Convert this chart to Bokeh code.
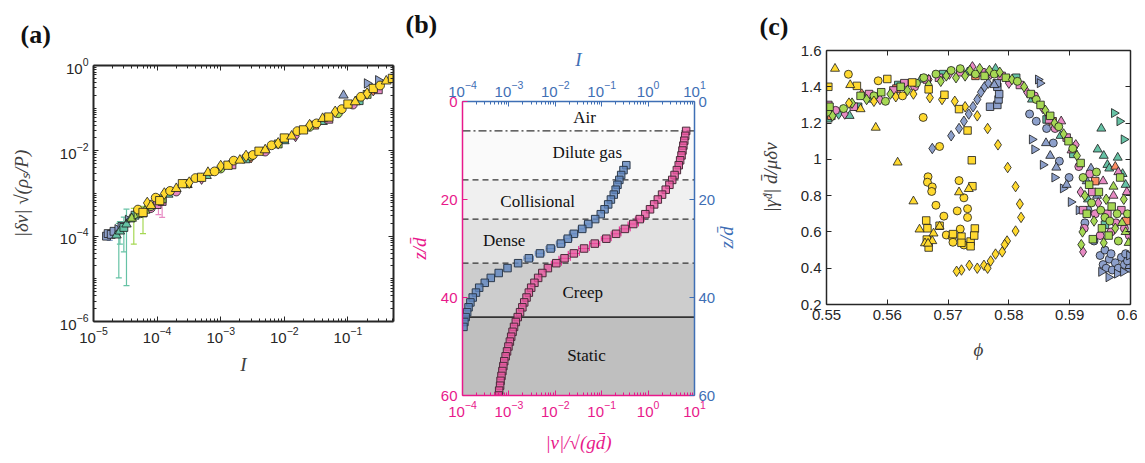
import math
from bokeh.plotting import figure
from bokeh.layouts import row, column
from bokeh.models import (Range1d, LogScale, LogAxis, LinearAxis, FixedTicker,
                          CustomJSTickFormatter, BoxAnnotation, Span, Label,
                          Whisker, TeeHead, ColumnDataSource)
from bokeh.embed import file_html
from bokeh.resources import INLINE

# ---------------- colours ----------------
TEAL, ORANGE, BLUE, PINK, GREEN, YELLOW = "#66c2a5", "#fc8d62", "#8da0cb", "#e78ac3", "#a6d854", "#ffd92f"
B_PINK, B_BLUE = "#e8198b", "#3f6fb5"

# ---------------- panel (a) data ----------------
a_yel_I = [5.0e-5, 6.0e-5, 7.0e-5, 8.0e-5, 9.5e-5, 1.1e-4, 1.3e-4, 1.6e-4, 2.0e-4, 2.5e-4, 3.2e-4,
           4.0e-4, 5.0e-4, 6.3e-4, 8.0e-4, 1.0e-3, 1.3e-3, 1.6e-3, 2.0e-3, 2.5e-3, 3.2e-3, 4.0e-3,
           5.0e-3, 6.3e-3, 8.0e-3, 1.0e-2, 1.3e-2, 1.6e-2, 2.0e-2, 2.5e-2, 3.2e-2, 4.0e-2, 5.0e-2,
           6.3e-2, 8.0e-2, 0.10, 0.13, 0.16, 0.20, 0.25, 0.32, 0.40, 0.50]
a_yel_y = [4.2e-4, 3.6e-4, 6.0e-4, 5.2e-4, 8.0e-4, 6.8e-4, 1.0e-3, 1.15e-3, 1.3e-3, 1.7e-3, 1.8e-3,
           2.3e-3, 2.4e-3, 3.1e-3, 3.3e-3, 4.4e-3, 4.6e-3, 5.9e-3, 6.0e-3, 7.6e-3, 8.0e-3, 9.8e-3,
           1.05e-2, 1.35e-2, 1.5e-2, 2.0e-2, 2.2e-2, 2.9e-2, 3.1e-2, 4.0e-2, 4.4e-2, 5.7e-2, 6.2e-2,
           8.2e-2, 9.5e-2, 0.125, 0.14, 0.185, 0.22, 0.29, 0.34, 0.43, 0.50]
a_yel_mk = list("osd^osdo^s" "dos^odso^d" "os^ods^osd" "o^sdos^ods" "o^s")

a_teal_I = [2.3e-5, 2.6e-5, 3.0e-5, 3.3e-5, 3.8e-5, 4.5e-5, 1.5e-4, 6.0e-4, 2.5e-3, 1.0e-2, 4.0e-2, 0.15]
a_teal_y = [1.05e-4, 1.3e-4, 1.6e-4, 1.9e-4, 2.5e-4, 3.1e-4, 9.5e-4, 2.6e-3, 6.5e-3, 1.7e-2, 4.8e-2, 0.15]
a_teal_mk = list("^^s^^s^^s^^s")

a_green_I = [4.0e-5, 4.8e-5, 5.5e-5, 6.5e-5, 8.0e-5, 1.2e-4, 3.0e-4, 1.0e-3, 3.0e-3, 8.0e-3, 2.5e-2, 7.0e-2, 0.2]
a_green_y = [2.6e-4, 3.2e-4, 3.4e-4, 4.0e-4, 5.0e-4, 7.5e-4, 1.6e-3, 3.8e-3, 7.5e-3, 1.45e-2, 3.6e-2, 7.5e-2, 0.21]
a_green_mk = list("^>o^os^oosoos")

a_pink_I = [6.0e-5, 8.0e-5, 1.0e-4, 1.2e-4, 2.0e-4, 5.0e-4, 1.5e-3, 5.0e-3, 1.5e-2, 5.0e-2, 0.12, 0.3]
a_pink_y = [3.5e-4, 4.5e-4, 5.5e-4, 6.5e-4, 1.1e-3, 2.2e-3, 4.7e-3, 9.5e-3, 2.2e-2, 5.5e-2, 0.12, 0.27]
a_pink_mk = list("sossodsodsos")

a_blue_I = [1.6e-5, 1.7e-5, 1.9e-5, 2.1e-5, 2.4e-5, 2.8e-5, 3.5e-5, 0.085, 0.2, 0.3]
a_blue_y = [1.0e-4, 1.15e-4, 1.1e-4, 1.3e-4, 1.45e-4, 1.7e-4, 2.4e-4, 0.2, 0.38, 0.45]
a_blue_mk = list("ssss>s>^>>")

a_orange_I = [3.0e-4, 3.0e-3, 3.0e-2, 0.25]
a_orange_y = [1.7e-3, 7.0e-3, 4.0e-2, 0.26]
a_orange_mk = list("sdsd")

a_err_I = [1.8e-5, 2.5e-5, 3.0e-5, 3.3e-5, 2.6e-5, 4.3e-5, 6.0e-5, 1.2e-4, 1.05e-4]
a_err_lo = [8.0e-5, 1.05e-5, 4.3e-5, 6.9e-6, 6.5e-5, 6.5e-5, 1.15e-4, 2.75e-4, 3.2e-4]
a_err_hi = [1.2e-4, 2.0e-4, 2.8e-4, 4.3e-4, 2.2e-4, 4.5e-4, 5.0e-4, 7.0e-4, 6.0e-4]
a_err_col = [BLUE, TEAL, TEAL, TEAL, TEAL, GREEN, GREEN, PINK, PINK]

# ---------------- panel (b) data ----------------
b_region_edges = [0, 6, 16, 24, 33, 44, 60]
b_region_fill = ["#ffffff", "#fafafa", "#f0f0f0", "#e2e2e2", "#cdcdcd", "#bfbfbf"]
b_region_names = ["Air", "Dilute gas", "Collisional", "Dense", "Creep", "Static"]
b_label_x = [0.0427, 0.049, 0.00417, 0.00079, 0.039, 0.047]
b_label_z = [3.2, 10.4, 20.5, 28.3, 38.9, 51.8]
b_line_z = [6, 16, 24, 33, 44]
b_line_dash = ["8 3 2 3", "6 4", "6 4", "6 4", "solid"]

b_v_z = list(range(6, 61))
b_v = [6.61, 6.31, 6.03, 5.75, 5.50, 5.25, 4.90, 4.57, 4.17, 3.72, 3.31, 2.88, 2.40, 2.00, 1.62,
       1.35, 1.10, 0.871, 0.661, 0.479, 0.316, 0.204, 0.126, 0.0708, 0.0417, 0.0251, 0.0158,
       0.0105, 0.00692, 0.00525, 0.00427, 0.00355, 0.00302, 0.00269, 0.00240, 0.00214, 0.00195,
       0.00174, 0.00155, 0.00141, 0.00129, 0.00120, 0.00112, 0.00105, 0.000977, 0.000912,
       0.000851, 0.000794, 0.000759, 0.000724, 0.000692, 0.000661, 0.000646, 0.000617, 0.000603]
b_I_z = list(range(13, 47))
b_I = [0.339, 0.295, 0.263, 0.240, 0.219, 0.200, 0.182, 0.158, 0.138, 0.115, 0.0955, 0.0724,
       0.0513, 0.0380, 0.0251, 0.0186, 0.0132, 0.00794, 0.00468, 0.00269, 0.00158, 0.000933,
       0.000603, 0.000407, 0.000302, 0.000229, 0.000195, 0.000166, 0.000148, 0.000135,
       0.000126, 0.000117, 0.000110, 0.000105]
b_verr_z = [24, 25, 26, 27, 28, 29, 30, 31, 32, 33]
b_verr_lo = [0.53, 0.37, 0.24, 0.16, 0.098, 0.055, 0.032, 0.019, 0.012, 0.0082]
b_verr_hi = [0.82, 0.62, 0.41, 0.26, 0.16, 0.091, 0.054, 0.033, 0.021, 0.0135]
b_Ierr_z = [25, 26, 27, 28, 29, 30, 31, 32]
b_Ierr_lo = [0.042, 0.031, 0.020, 0.015, 0.0105, 0.0063, 0.0037, 0.0021]
b_Ierr_hi = [0.062, 0.046, 0.031, 0.023, 0.0165, 0.0100, 0.0059, 0.0034]

# ---------------- panel (c) data ----------------
c_blue_phi = [0.5674, 0.5705, 0.5718, 0.5726, 0.5734, 0.5741, 0.5748, 0.5754, 0.5760, 0.5766,
              0.5769, 0.5781, 0.5783, 0.5784, 0.5781, 0.5780,
              0.5776, 0.5848, 0.5851,
              0.5834, 0.5845, 0.5862, 0.5873, 0.5883, 0.5899,
              0.5838, 0.5842, 0.5856, 0.5875, 0.5889, 0.5902, 0.5915,
              0.5861, 0.5868, 0.5878, 0.5895,
              0.5950, 0.5955, 0.5960, 0.5965, 0.5970, 0.5975, 0.5980, 0.5985, 0.5990, 0.5995, 0.5998,
              0.5958, 0.5968, 0.5992,
              0.5964, 0.5952, 0.5978, 0.5988, 0.5998,
              0.5935, 0.5928, 0.5945, 0.5925, 0.5930, 0.5940]
c_blue_val = [1.06, 1.13, 1.17, 1.21, 1.25, 1.29, 1.33, 1.37, 1.40, 1.42,
              1.29, 1.30, 1.33, 1.36, 1.40, 1.42,
              1.41, 1.44, 1.42,
              1.25, 1.21, 1.17, 1.09, 0.99, 0.90,
              1.11, 1.055, 0.97, 0.90, 0.84, 0.765, 0.72,
              1.09, 1.02, 0.955, 0.86,
              0.47, 0.42, 0.40, 0.45, 0.39, 0.43, 0.40, 0.46, 0.42, 0.44, 0.40,
              0.50, 0.48, 0.48,
              0.35, 0.38, 0.37, 0.38, 0.47,
              0.95, 0.88, 0.80, 0.65, 0.72, 0.55]
c_blue_mk = list("dddddddddd" "ssssss" "^>>" "oooooo" ">>>>>>>" "^^^^" "oooooooooooooo" ">>>>>" "^^^ooo")

c_teal_phi = [0.5502, 0.5520, 0.5538, 0.5552, 0.5575, 0.5618, 0.5655, 0.5692, 0.5732, 0.5778,
              0.5812, 0.5838, 0.5862, 0.5885, 0.5906,
              0.5973, 0.5982, 0.5952, 0.5989, 0.5946, 0.5956, 0.5979, 0.5962, 0.5987, 0.5965,
              0.5930, 0.5958, 0.5992]
c_teal_val = [1.22, 1.25, 1.24, 1.29, 1.33, 1.41, 1.44, 1.47, 1.48, 1.50,
              1.45, 1.33, 1.22, 1.13, 1.03,
              1.255, 1.21, 1.17, 1.11, 1.055, 1.02, 1.01, 0.97, 0.92, 0.95,
              0.78, 0.64, 0.86]
c_teal_mk = list("^d^s^s^s^^s^s^s" ">>^>^^^^^^" "^s^")

c_orange_phi = [0.5508, 0.5558, 0.5615, 0.5668, 0.5745, 0.5798, 0.5872, 0.5908, 0.5942, 0.5975, 0.5993]
c_orange_val = [1.24, 1.36, 1.39, 1.44, 1.46, 1.44, 1.21, 1.07, 0.88, 0.96, 0.66]
c_orange_mk = list("sdsdsdsds^s")

c_pink_phi = [0.5503, 0.5515, 0.5530, 0.5545, 0.5570, 0.5588, 0.5610, 0.5628, 0.5645, 0.5665,
              0.5685, 0.5702, 0.5720, 0.5740, 0.5755, 0.5770, 0.5788, 0.5800, 0.5818, 0.5830,
              0.5842, 0.5856, 0.5866, 0.5876, 0.5886, 0.5895, 0.5903, 0.5910,
              0.5915, 0.5918, 0.5922, 0.5924, 0.5922, 0.5933, 0.5937, 0.5942, 0.5947, 0.5950,
              0.5955, 0.5962, 0.5968, 0.5972, 0.5976, 0.5980, 0.5985, 0.5990, 0.5994, 0.5998]
c_pink_val = [1.30, 1.27, 1.25, 1.29, 1.36, 1.33, 1.38, 1.42, 1.40, 1.44,
              1.45, 1.47, 1.48, 1.51, 1.48, 1.47, 1.46, 1.42, 1.41, 1.37,
              1.35, 1.28, 1.22, 1.17, 1.21, 1.12, 1.05, 1.08,
              0.96, 0.82, 0.72, 0.62, 0.49, 0.92, 0.82, 0.70, 0.76, 0.58,
              0.88, 0.70, 0.60, 0.80, 0.65, 0.93, 0.72, 0.62, 0.82, 0.58]
c_pink_mk = list("sods" "sdss" "ossd" "sdsd" "sdsd" "odso" "^s^d" "odsodosodo" "^so^o^so^o")

c_green_phi = [0.5502, 0.5505, 0.5510, 0.5528, 0.5542, 0.5556, 0.5566, 0.5578, 0.5590, 0.5597,
               0.5605, 0.5622, 0.5633, 0.5648, 0.5660, 0.5668, 0.5680, 0.5688, 0.5697, 0.5705,
               0.5713, 0.5720, 0.5728, 0.5736, 0.5745, 0.5752, 0.5760, 0.5768, 0.5776, 0.5785,
               0.5795, 0.5805, 0.5814, 0.5825, 0.5836, 0.5845, 0.5852, 0.5860, 0.5868, 0.5875,
               0.5882, 0.5890, 0.5898, 0.5905, 0.5912, 0.5918,
               0.5922, 0.5925, 0.5928, 0.5921, 0.5919, 0.5932, 0.5936, 0.5940, 0.5938, 0.5944,
               0.5948, 0.5951, 0.5953, 0.5956, 0.5958, 0.5960, 0.5964, 0.5966, 0.5969, 0.5972,
               0.5975, 0.5978, 0.5980, 0.5983, 0.5986, 0.5989, 0.5992, 0.5995, 0.5997]
c_green_val = [1.26, 1.29, 1.24, 1.28, 1.31, 1.35, 1.33, 1.35, 1.37, 1.32,
               1.36, 1.40, 1.38, 1.42, 1.45, 1.41, 1.47, 1.43, 1.46, 1.49,
               1.45, 1.50, 1.46, 1.49, 1.47, 1.50, 1.46, 1.49, 1.47, 1.48,
               1.45, 1.44, 1.43, 1.40, 1.36, 1.33, 1.30, 1.27, 1.24, 1.20,
               1.18, 1.14, 1.10, 1.06, 1.02, 0.98,
               0.90, 0.80, 0.70, 0.60, 0.53, 0.86, 0.76, 0.66, 0.56, 0.93,
               0.82, 0.72, 0.62, 0.54, 0.68, 0.78, 0.58, 0.66, 0.74, 0.85,
               0.62, 0.70, 0.55, 0.90, 0.65, 0.78, 0.60, 0.70, 0.54]
c_green_mk = list("osdodsdoso" "dsdoododdo" "doddodsdod" "sdodsosdsd" "odsods"
                  "odsdd" "sodso" "sosdo" "dsos^" "doos^" "d^o^")

c_yel_phi = [0.5537, 0.5578, 0.5614, 0.5643, 0.5670, 0.5690, 0.5711, 0.5728, 0.5748, 0.5765,
             0.5782, 0.5798, 0.5811, 0.5818, 0.5820, 0.5811, 0.5797, 0.5793, 0.5789, 0.5778,
             0.5770, 0.5759, 0.5765, 0.5748, 0.5735, 0.5722, 0.5714,
             0.5536, 0.5585, 0.5625, 0.5659, 0.5686, 0.5667, 0.5666, 0.5674, 0.5673, 0.5680,
             0.5693, 0.5697, 0.5707, 0.5708, 0.5718, 0.5726, 0.5715, 0.5732, 0.5732, 0.5720,
             0.5726,
             0.5503, 0.5550, 0.5600, 0.5641, 0.5668, 0.5694, 0.5718, 0.5732, 0.5739, 0.5740,
             0.5664, 0.5666, 0.5686, 0.5708, 0.5665, 0.5668, 0.5722, 0.5722, 0.5737, 0.5737,
             0.5744, 0.5743,
             0.5514, 0.5539, 0.5556, 0.5581, 0.5617, 0.5643, 0.5653, 0.5676, 0.5674, 0.5662,
             0.5718, 0.5734, 0.5686, 0.5667]
c_yel_val = [1.31, 1.32, 1.345, 1.36, 1.34, 1.33, 1.32, 1.29, 1.24, 1.17,
             1.08, 0.955, 0.85, 0.754, 0.68, 0.605, 0.55, 0.53, 0.49, 0.478,
             0.44, 0.416, 0.40, 0.40, 0.416, 0.39, 0.383,
             1.469, 1.433, 1.35, 1.231, 1.071, 0.904, 0.874, 0.848, 0.823, 0.747,
             0.687, 0.583, 0.57, 0.543, 0.883, 0.788, 0.716, 0.728, 0.68, 0.616,
             0.528,
             1.40, 1.405, 1.443, 1.424, 1.386, 1.356, 1.277, 1.159, 0.995, 0.852,
             0.663, 0.62, 0.634, 0.588, 0.558, 0.514, 0.574, 0.54, 0.547, 0.521,
             0.619, 0.58,
             1.50, 1.41, 1.277, 1.175, 0.983, 0.769, 0.614, 0.592, 0.55, 0.538,
             0.819, 0.837, 0.63, 0.536]
c_yel_mk = (["d"] * 27) + (["o"] * 21) + (["s"] * 22) + (["^"] * 14)

# ---------------- helpers ----------------
MK = {"o": ("circle", 0.0, 8), "s": ("square", 0.0, 7.5), "^": ("triangle", 0.0, 9),
      "d": ("diamond", 0.0, 10.5), ">": ("triangle", -math.pi / 2, 9)}


def add_points(p, xs, ys, mks, color, scale=1.0, **kw):
    n = min(len(xs), len(ys), len(mks))
    xs, ys, mks = xs[:n], ys[:n], mks[:n]
    src = ColumnDataSource(dict(x=xs, y=ys, marker=[MK[m][0] for m in mks],
                                angle=[MK[m][1] for m in mks],
                                size=[MK[m][2] * scale for m in mks]))
    p.scatter("x", "y", marker="marker", angle="angle", size="size", source=src,
              fill_color=color, line_color="#1a1a1a", line_width=0.8, **kw)


def log_minor(e0, e1):
    return [m * 10.0 ** e for e in range(e0, e1) for m in range(2, 10)]


def style_axis(ax, color="#262626", lw=1.5, tin=5, mtin=3):
    ax.axis_line_color = color
    ax.axis_line_width = lw
    ax.major_tick_line_color = color
    ax.minor_tick_line_color = color
    ax.major_tick_in = tin
    ax.major_tick_out = 0
    ax.minor_tick_in = mtin
    ax.minor_tick_out = 0
    ax.major_label_text_color = color
    ax.major_label_text_font = "Liberation Sans"
    ax.major_label_text_font_size = "15px"
    ax.axis_label_text_color = color
    ax.axis_label_text_font = "Liberation Serif"
    ax.axis_label_text_font_style = "italic"
    ax.axis_label_text_font_size = "19px"


def hide_labels(ax):
    ax.major_label_text_alpha = 0
    ax.major_label_text_font_size = "1px"
    ax.major_label_standoff = 0
    ax.axis_label = None


def panel_title(p, text, offset, standoff):
    p.title.text = text
    p.title.align = "left"
    p.title.offset = offset
    p.title.standoff = standoff
    p.title.text_font = "Liberation Serif"
    p.title.text_font_style = "bold"
    p.title.text_font_size = "26px"
    p.title.text_color = "#111111"


LABEL_GRAY = "#404040"

# ---------------- panel (a) ----------------
p1 = figure(width=400, height=455, x_axis_type="log", y_axis_type="log",
            x_range=Range1d(1e-5, 0.52), y_range=Range1d(1e-6, 1.0),
            min_border_left=93, min_border_right=7, min_border_top=63, min_border_bottom=134,
            output_backend="svg", toolbar_location=None)
p1.grid.visible = False
p1.outline_line_color = None
ax_xt = FixedTicker(ticks=[1e-5, 1e-4, 1e-3, 1e-2, 1e-1], minor_ticks=log_minor(-5, 0))
ax_yt = FixedTicker(ticks=[1e-6, 1e-4, 1e-2, 1.0],
                    minor_ticks=[1e-5, 1e-3, 1e-1] + log_minor(-6, 0))
bx, ly = p1.xaxis[0], p1.yaxis[0]
for ax, tk in ((bx, ax_xt), (ly, ax_yt)):
    style_axis(ax, lw=2)
    ax.ticker = tk
bx.axis_label = "I"
bx.axis_label_standoff = 8
ly.axis_label = "|δv| √(ρₛ/P)"
ly.axis_label_standoff = 25
for side, tk in (("above", ax_xt), ("right", ax_yt)):
    ax = LogAxis(ticker=tk)
    style_axis(ax, lw=2)
    hide_labels(ax)
    p1.add_layout(ax, side)
for ax in (bx, ly):
    ax.axis_label_text_color = LABEL_GRAY
panel_title(p1, "(a)", -73, 34)

for col in (BLUE, TEAL, GREEN, PINK):
    idx = [i for i, c in enumerate(a_err_col) if c == col]
    src = ColumnDataSource(dict(x=[a_err_I[i] for i in idx], lo=[a_err_lo[i] for i in idx],
                                hi=[a_err_hi[i] for i in idx]))
    p1.add_layout(Whisker(base="x", lower="lo", upper="hi", source=src, dimension="height",
                          line_color=col, line_width=1.2,
                          upper_head=TeeHead(size=6, line_color=col, line_width=1.2),
                          lower_head=TeeHead(size=6, line_color=col, line_width=1.2),
                          level="underlay"))
add_points(p1, a_blue_I, a_blue_y, a_blue_mk, BLUE, 1.05)
add_points(p1, a_teal_I, a_teal_y, a_teal_mk, TEAL, 1.05)
add_points(p1, a_orange_I, a_orange_y, a_orange_mk, ORANGE, 1.05)
add_points(p1, a_pink_I, a_pink_y, a_pink_mk, PINK, 1.05)
add_points(p1, a_green_I, a_green_y, a_green_mk, GREEN, 1.05)
add_points(p1, a_yel_I, a_yel_y, a_yel_mk, YELLOW, 1.1)

# ---------------- panel (b) ----------------
p2 = figure(width=350, height=455, x_axis_type="log",
            x_range=Range1d(1e-4, 10.0), y_range=Range1d(60, 0),
            min_border_left=62, min_border_right=54, min_border_top=100, min_border_bottom=57,
            output_backend="svg", toolbar_location=None)
p2.grid.visible = False
p2.outline_line_color = None
p2.extra_x_ranges = {"I": Range1d(1e-4, 10.0)}
p2.extra_x_scales = {"I": LogScale()}
b_xt = FixedTicker(ticks=[1e-4, 1e-3, 1e-2, 1e-1, 1.0, 10.0], minor_ticks=log_minor(-4, 1))
b_yt = FixedTicker(ticks=[0, 20, 40, 60])
bb, bl = p2.xaxis[0], p2.yaxis[0]
style_axis(bb, color=B_PINK)
bb.ticker = b_xt
bb.axis_label = "|v|/√(gd̄)"
bb.axis_label_standoff = 12
style_axis(bl, color=B_PINK)
bl.ticker = b_yt
bl.axis_label = "z/d̄"
bl.axis_label_standoff = 8
bt = LogAxis(x_range_name="I", ticker=b_xt, axis_label="I")
style_axis(bt, color=B_BLUE)
bt.axis_label_standoff = 8
p2.add_layout(bt, "above")
br = LinearAxis(ticker=b_yt, axis_label="z/d̄")
style_axis(br, color=B_BLUE)
br.major_label_standoff = 4
br.axis_label_standoff = 8
try:
    br.axis_label_orientation = math.pi / 2
except Exception:
    pass
p2.add_layout(br, "right")
panel_title(p2, "(b)", -57, 14)

for top_, bot_, fc in zip(b_region_edges[:-1], b_region_edges[1:], b_region_fill):
    p2.add_layout(BoxAnnotation(top=top_, bottom=bot_, fill_color=fc, fill_alpha=1.0,
                                line_alpha=0, level="underlay"))
for z_, d_ in zip(b_line_z, b_line_dash):
    p2.add_layout(Span(location=z_, dimension="width", line_color="#333333",
                       line_width=1.6 if d_ == "solid" else 1.3, line_dash=d_, level="underlay"))
for name, lx, lz in zip(b_region_names, b_label_x, b_label_z):
    p2.add_layout(Label(x=lx, y=lz, text=name, text_align="center", text_baseline="middle",
                        text_font="Liberation Serif", text_font_size="17px", text_color="#111111"))

src = ColumnDataSource(dict(z=b_verr_z, lo=b_verr_lo, hi=b_verr_hi))
p2.add_layout(Whisker(base="z", lower="lo", upper="hi", source=src, dimension="width",
                      line_color=B_PINK, line_width=1,
                      upper_head=TeeHead(size=5, line_color=B_PINK),
                      lower_head=TeeHead(size=5, line_color=B_PINK)))
src = ColumnDataSource(dict(z=b_Ierr_z, lo=b_Ierr_lo, hi=b_Ierr_hi))
p2.add_layout(Whisker(base="z", lower="lo", upper="hi", source=src, dimension="width",
                      x_range_name="I", line_color="#6a8fc8", line_width=1,
                      upper_head=TeeHead(size=5, line_color="#6a8fc8"),
                      lower_head=TeeHead(size=5, line_color="#6a8fc8")))
p2.scatter(b_v, b_v_z, marker="square", size=7.5, fill_color="#e8559f", fill_alpha=0.8,
           line_color="#4a2a3a", line_width=1)
p2.scatter(b_I, b_I_z, marker="square", size=7.5, fill_color="#5f86bf", fill_alpha=0.8,
           line_color="#2d3b4d", line_width=1, x_range_name="I")

# ---------------- panel (c) ----------------
p3 = figure(width=387, height=455, x_range=Range1d(0.55, 0.6), y_range=Range1d(0.2, 1.6),
            min_border_left=76, min_border_right=7, min_border_top=47, min_border_bottom=151,
            output_backend="svg", toolbar_location=None)
p3.grid.visible = False
p3.outline_line_color = None
c_xt = FixedTicker(ticks=[0.55, 0.56, 0.57, 0.58, 0.59, 0.60])
c_yt = FixedTicker(ticks=[0.2, 0.4, 0.6, 0.8, 1.0, 1.2, 1.4, 1.6])
cx, cy = p3.xaxis[0], p3.yaxis[0]
style_axis(cx)
cx.ticker = c_xt
cx.formatter = CustomJSTickFormatter(code="return String(Math.round(tick*100)/100);")
cx.axis_label = "ϕ"
cx.axis_label_standoff = 16
cx.axis_label_text_color = LABEL_GRAY
style_axis(cy)
cy.ticker = c_yt
cy.formatter = CustomJSTickFormatter(code="return String(Math.round(tick*10)/10);")
cy.axis_label = "|γ̇ᵈ| d̄/μδv"
cy.axis_label_standoff = 17
cy.axis_label_text_color = LABEL_GRAY
for side, tk in (("above", c_xt), ("right", c_yt)):
    ax = LinearAxis(ticker=tk)
    style_axis(ax)
    hide_labels(ax)
    p3.add_layout(ax, side)
panel_title(p3, "(c)", -67, 19)

add_points(p3, c_blue_phi, c_blue_val, c_blue_mk, BLUE)
add_points(p3, c_teal_phi, c_teal_val, c_teal_mk, TEAL)
add_points(p3, c_orange_phi, c_orange_val, c_orange_mk, ORANGE)
add_points(p3, c_pink_phi, c_pink_val, c_pink_mk, PINK)
add_points(p3, c_green_phi, c_green_val, c_green_mk, GREEN)
add_points(p3, c_yel_phi, c_yel_val, c_yel_mk, YELLOW)

layout = row(column(p1), column(p2), column(p3))
open("out.html", "w").write(file_html(layout, INLINE))
